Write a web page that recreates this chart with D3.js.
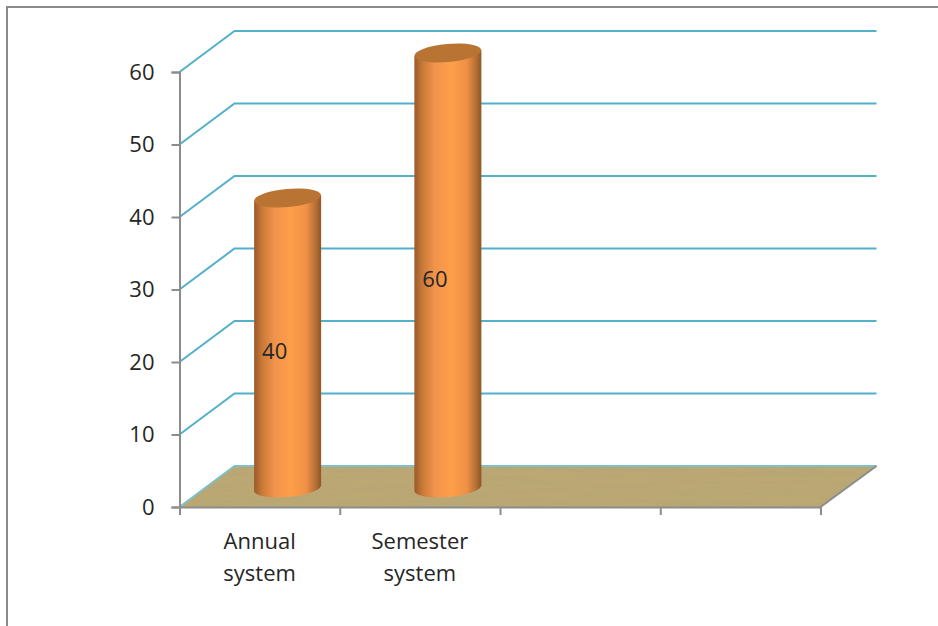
<!DOCTYPE html>
<html>
<head>
<meta charset="utf-8">
<script src="https://cdn.jsdelivr.net/npm/d3@7/dist/d3.min.js"></script>
<style>
  html, body { margin: 0; padding: 0; background: #fff; }
  text { font-family: "Open Sans", sans-serif; fill: #262626; }
</style>
</head>
<body>
<svg id="chart" width="938" height="626"></svg>
<script>
// Survey result: preference for annual versus semester examination systems
const categories = ["Annual system", "Semester system", "", ""];
const values = [40, 60];
const yTicks = [0, 10, 20, 30, 40, 50, 60];

const svg = d3.select("#chart");
const defs = svg.append("defs");

const x = d3.scaleBand().domain(d3.range(categories.length)).range([179.5, 820.5]);
const y = d3.scaleLinear().domain([0, 60]).range([507, 72]);

// Oblique projection of the depth axis
const depth = { dx: 55, dy: -41 };
const cyl = { rx: 33.5, ry: 9, tilt: -5, inset: 28, lift: 19 };

const gradient = defs.append("linearGradient").attr("id", "barShade");
[[0, "#9a5a2a"], [0.12, "#c97a38"], [0.3, "#f0924a"], [0.55, "#ff9f4a"],
 [0.78, "#ef9046"], [0.92, "#b56f35"], [1, "#8f5628"]].forEach(([o, c]) =>
  gradient.append("stop").attr("offset", o).attr("stop-color", c));

// Woven tan texture for the chart floor
const weave = defs.append("filter").attr("id", "weave")
  .attr("x", 0).attr("y", 0).attr("width", 1).attr("height", 1);
weave.append("feTurbulence").attr("type", "fractalNoise")
  .attr("baseFrequency", "0.012 0.22").attr("numOctaves", 3).attr("seed", 7).attr("result", "n");
weave.append("feColorMatrix").attr("in", "n").attr("type", "matrix")
  .attr("values", "0 0 0 0 0.45  0 0 0 0 0.37  0 0 0 0 0.18  0.9 0 0 0 -0.28").attr("result", "tint");
weave.append("feMerge").selectAll("feMergeNode").data(["SourceGraphic", "tint"]).join("feMergeNode")
  .attr("in", d => d);

const floorPts = [[x.range()[0], y(0)], [x.range()[0] + depth.dx, y(0) + depth.dy],
                  [x.range()[1] + depth.dx + 1, y(0) + depth.dy], [x.range()[1], y(0)]];
defs.append("clipPath").attr("id", "floorClip").append("polygon").attr("points", floorPts.join(" "));

// Outer frame, open on the right and at the bottom
svg.append("path").attr("d", "M7,626V7H938").attr("fill", "none")
  .attr("stroke", "#8a8a8a").attr("stroke-width", 2);

// Floor
svg.append("g").attr("clip-path", "url(#floorClip)").append("rect")
  .attr("x", x.range()[0]).attr("y", y(0) + depth.dy)
  .attr("width", x.range()[1] - x.range()[0] + depth.dx + 2).attr("height", -depth.dy)
  .attr("fill", "#bba873").attr("filter", "url(#weave)");

// Gridlines on the side and back walls
svg.append("g").selectAll("path").data(yTicks).join("path")
  .attr("d", d => `M${x.range()[0]},${y(d)}L${x.range()[0] + depth.dx},${y(d) + depth.dy}H${x.range()[1] + depth.dx + 1}`)
  .attr("fill", "none").attr("stroke", d => d === 0 ? "#7fbfcc" : "#52b0ca").attr("stroke-width", 2);

// Value axis
const yAxis = svg.append("g").attr("transform", `translate(${x.range()[0]},0)`)
  .call(d3.axisLeft(y).tickValues(yTicks).tickSize(8).tickPadding(17));
yAxis.selectAll("line").attr("stroke", "#8c8c8c").attr("stroke-width", 2);
yAxis.select(".domain").attr("stroke", "#8c8c8c").attr("stroke-width", 2);
yAxis.selectAll("text").attr("font-size", 22).attr("font-family", "'Open Sans', sans-serif");

// Category axis with two-line labels
const xAxis = svg.append("g").attr("transform", `translate(0,${y(0)})`)
  .call(d3.axisBottom(d3.scaleLinear().domain([0, categories.length]).range(x.range()))
    .tickValues(d3.range(categories.length + 1)).tickSize(8).tickFormat(""));
xAxis.selectAll("line").attr("stroke", "#8c8c8c").attr("stroke-width", 2);
xAxis.select(".domain").attr("stroke", "#8c8c8c").attr("stroke-width", 2);

svg.append("path")
  .attr("d", `M${floorPts[3][0]},${floorPts[3][1]}L${floorPts[2][0]},${floorPts[2][1]}`)
  .attr("stroke", "#8c8c8c").attr("stroke-width", 2).attr("fill", "none");

svg.append("g").selectAll("text").data(categories.filter(c => c)).join("text")
  .attr("text-anchor", "middle").attr("font-size", 22)
  .attr("x", (d, i) => x(i) + x.bandwidth() / 2)
  .each(function (d) {
    d3.select(this).selectAll("tspan").data(d.split(" ")).join("tspan")
      .attr("x", d3.select(this).attr("x"))
      .attr("y", (w, j) => 549 + j * 32)
      .text(w => w);
  });

// Cylinders
const rad = cyl.tilt * Math.PI / 180;
const bars = svg.append("g").selectAll("g").data(values).join("g")
  .attr("transform", (d, i) =>
    `translate(${x(i) + x.bandwidth() / 2 + cyl.inset},0)`);

bars.append("path")
  .attr("d", d => {
    const top = y(d) - cyl.lift;
    const base = y(0) - cyl.lift;
    const dy = cyl.rx * Math.sin(rad);
    return `M${-cyl.rx},${top - dy}V${base - dy}` +
      `A${cyl.rx},${cyl.ry} ${cyl.tilt} 0 0 ${cyl.rx},${base + dy}` +
      `V${top + dy}Z`;
  })
  .attr("fill", "url(#barShade)");

bars.append("ellipse")
  .attr("rx", cyl.rx).attr("ry", cyl.ry)
  .attr("transform", d => `translate(0,${y(d) - cyl.lift}) rotate(${cyl.tilt})`)
  .attr("fill", "#b97434");

// Value labels sit on the cylinder bodies
bars.append("text")
  .attr("text-anchor", "middle").attr("font-size", 22).attr("fill", "#111")
  .attr("x", -13)
  .attr("y", d => y(d / 2) - 3)
  .text(d => d);
</script>
</body>
</html>
